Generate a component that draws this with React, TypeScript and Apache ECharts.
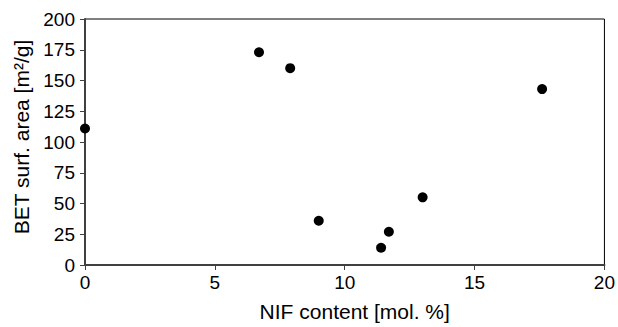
import React, { useEffect, useRef } from "react";
import * as echarts from "echarts";

const nifContent = [0, 6.7, 7.9, 9.0, 11.4, 11.7, 13.0, 17.6];
const betArea = [111, 173, 160, 36, 14, 27, 55, 143];
const xTicks = [0, 5, 10, 15, 20];
const yTicks = [0, 25, 50, 75, 100, 125, 150, 175, 200];

export default function App() {
  const ref = useRef<HTMLDivElement>(null);
  useEffect(() => {
    if (!ref.current) return;
    const chart = echarts.init(ref.current, undefined, { renderer: "svg" });
    const font = "Liberation Sans, Arial, sans-serif";
    chart.setOption({
      animation: false,
      backgroundColor: "#ffffff",
      grid: {
        left: 85,
        right: 13,
        top: 19,
        bottom: 62,
        show: true,
        borderColor: "#000000",
        borderWidth: 1,
        backgroundColor: "transparent",
      },
      xAxis: {
        type: "value",
        min: xTicks[0],
        max: xTicks[xTicks.length - 1],
        interval: 5,
        name: "NIF content [mol. %]",
        nameLocation: "middle",
        nameGap: 36,
        nameTextStyle: { fontFamily: font, fontSize: 21, color: "#000", padding: [0, 0, 0, 20] },
        axisLine: { show: true, lineStyle: { color: "#404040", width: 2 } },
        axisTick: { show: true, length: 5, lineStyle: { color: "#404040", width: 1 } },
        axisLabel: { fontFamily: font, fontSize: 19, color: "#000", margin: 8 },
        splitLine: { show: false },
      },
      yAxis: {
        type: "value",
        min: yTicks[0],
        max: yTicks[yTicks.length - 1],
        interval: 25,
        name: "BET surf. area [m²/g]",
        nameLocation: "middle",
        nameGap: 50,
        nameTextStyle: { fontFamily: font, fontSize: 21, color: "#000", padding: [0, 0, 0, 10] },
        axisLine: { show: true, lineStyle: { color: "#404040", width: 2 } },
        axisTick: { show: true, length: 5, lineStyle: { color: "#404040", width: 1 } },
        axisLabel: { fontFamily: font, fontSize: 19, color: "#000", margin: 10 },
        splitLine: { show: false },
      },
      series: [
        {
          type: "scatter",
          data: nifContent.map((x, i) => [x, betArea[i]]),
          symbol: "circle",
          symbolSize: 10,
          itemStyle: { color: "#000000", opacity: 1 },
          clip: false,
        },
      ],
    });
    return () => chart.dispose();
  }, []);
  return (
    <div
      ref={ref}
      style={{ position: "fixed", left: 0, top: 0, width: 618, height: 327 }}
    />
  );
}
